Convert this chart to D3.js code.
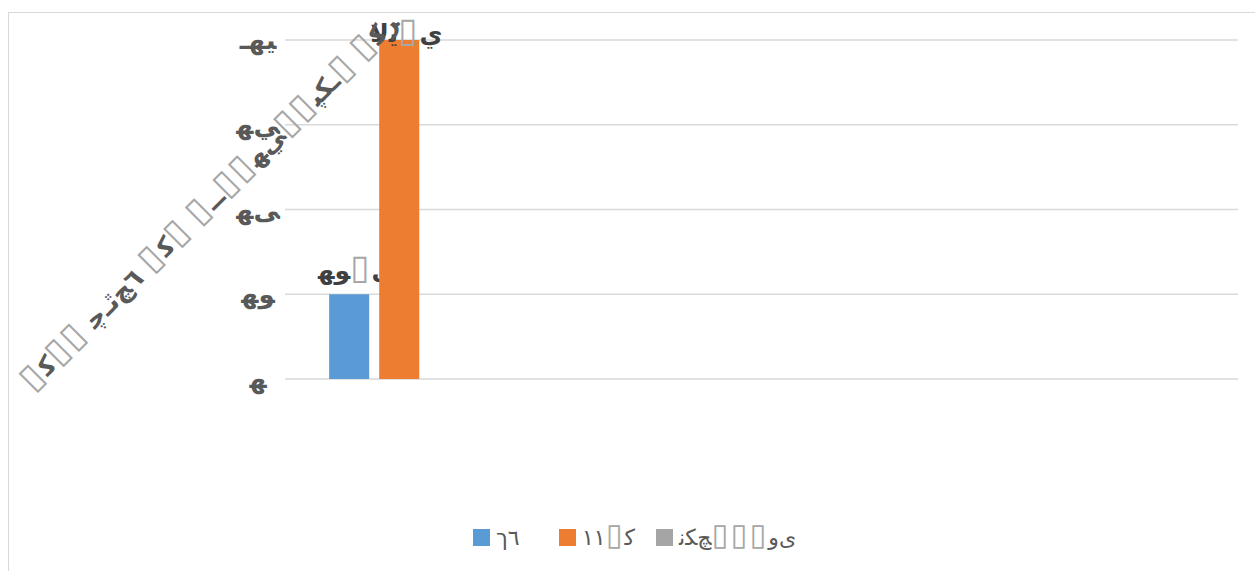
<!DOCTYPE html>
<html>
<head>
<meta charset="utf-8">
<script src="https://cdn.jsdelivr.net/npm/d3@7"></script>
<style>
  body { margin: 0; background: #fff; }
  text { font-family: "DejaVu Sans", sans-serif; }
</style>
</head>
<body>
<svg></svg>
<script>
const WIDTH = 1255;
const HEIGHT = 571;

// chart data; the labels are the garbled glyphs of the picture, written left to right
// with already shaped Arabic forms so the browser does not reorder them
const categories = ["a", "b", "c", "d"];
const seriesNames = ["\u05DA\u0666", "\u0661\u0661▯\uFB90", "\uFEE7\uFB91\uFB7B▯▯▯\uFEED\uFBFC"];
const seriesColors = ["#5B9BD5", "#ED7D31", "#A5A5A5"];
const values = [
    [10, null, null, null],
    [40, null, null, null],
    [null, null, null, null]
];
const valueLabels = [["\uFEEC\uFEEE▯\uFEEF"], ["\uFEFB\uFEF3▯\uFEF1"], [""]];
const yTicks = [0, 10, 20, 30, 40];
const yTickLabels = ["\uFEEC", "\uFEEC\uFEEE", "\uFEEC\uFEF0", "\uFEEC\uFEF2", "\u0640\uFEEC\uFEF4"];
const yTitle = "▯\uFB90▯▯\u00A0\uFB7C\u0640\uFB64\uFB7B\u0666\u00A0▯\uFB90▯\u00A0▯\u0640\u0640▯▯\uFEEC\uFEF2▯▯\uFB59\uFB91\u0640▯\u00A0▯\uFB90\uFEAE";

const margin = {left: 285, right: 17, top: 40, bottom: 192};

var svg = d3.select("svg")
    .attr("width", WIDTH)
    .attr("height", HEIGHT);

// one <text> per glyph, laid out left to right by measured width
// (missing-glyph boxes are drawn a bit larger and lighter, as in the picture)
function glyphRow(parent, str, size, weight, color, anchor) {
    var g = parent.append("g");
    var cx = 0;
    Array.from(str).forEach(ch => {
        var box = ch === "▯";
        var t = g.append("text")
            .attr("x", cx)
            .style("font-size", (box ? size * 1.4 : size) + "px")
            .style("font-weight", box ? "normal" : weight)
            .style("fill", box ? "#A6A6A6" : color)
            .text(ch);
        cx += t.node().getComputedTextLength() + (box ? 2 : 0);
    });
    if (anchor === "middle") {
        g.selectAll("text").attr("x", function() { return +this.getAttribute("x") - cx / 2; });
    }
    return g;
}

// chart frame
svg.append("rect")
    .attr("x", 8.5)
    .attr("y", 12.5)
    .attr("width", WIDTH)
    .attr("height", HEIGHT)
    .style("fill", "none")
    .attr("stroke", "#D9D9D9");

var x0 = d3.scaleBand()
    .domain(categories)
    .range([margin.left, WIDTH - margin.right]);

var x1 = d3.scaleBand()
    .domain(d3.range(seriesNames.length))
    .range([0, x0.bandwidth()])
    .paddingInner(0.2)
    .paddingOuter(0.98)
    .align(0.45);

var y = d3.scaleLinear()
    .domain([0, 40])
    .range([HEIGHT - margin.bottom, margin.top]);

// gridlines
svg.append("g")
    .selectAll("line")
    .data(yTicks)
    .join("line")
    .attr("x1", margin.left)
    .attr("x2", WIDTH - margin.right)
    .attr("y1", d => y(d))
    .attr("y2", d => y(d))
    .attr("stroke", "#D9D9D9")
    .attr("stroke-width", 1.5);

// y tick labels
yTicks.forEach((d, i) => {
    glyphRow(svg, yTickLabels[i], 26, "bold", "#595959", "middle")
        .attr("transform", `translate(258,${y(d) + 9})`);
});

// bars
seriesNames.forEach((name, s) => {
    var rows = values[s].map((v, i) => ({cat: categories[i], v: v, i: i})).filter(d => d.v != null);
    var g = svg.append("g");
    g.selectAll("rect")
        .data(rows)
        .join("rect")
        .attr("x", d => x0(d.cat) + x1(s))
        .attr("width", x1.bandwidth())
        .attr("y", d => y(d.v))
        .attr("height", d => y(0) - y(d.v))
        .style("fill", seriesColors[s]);

    // labels sit above the bar but are kept inside the chart area
    rows.forEach(d => {
        var cx = x0(d.cat) + x1(s) + x1.bandwidth() / 2 + 7;
        glyphRow(g, valueLabels[s][d.i] || "", 25, "bold", "#404040", "middle")
            .attr("transform", `translate(${cx},${Math.max(y(d.v) - 15, margin.top + 2)})`);
    });
});

// y axis title, tilted
glyphRow(svg, yTitle, 25.5, "bold", "#595959", "middle")
    .attr("transform", "translate(210,202) rotate(-45) translate(0,9)");

// legend
var legendX = [473, 559, 656];
var legend = svg.append("g");
seriesNames.forEach((name, s) => {
    legend.append("rect")
        .attr("x", legendX[s])
        .attr("y", 529)
        .attr("width", 17)
        .attr("height", 17)
        .style("fill", seriesColors[s]);
    glyphRow(legend, name, 22, "normal", "#595959", "start")
        .attr("transform", `translate(${legendX[s] + 23},545)`);
});
</script>
</body>
</html>
